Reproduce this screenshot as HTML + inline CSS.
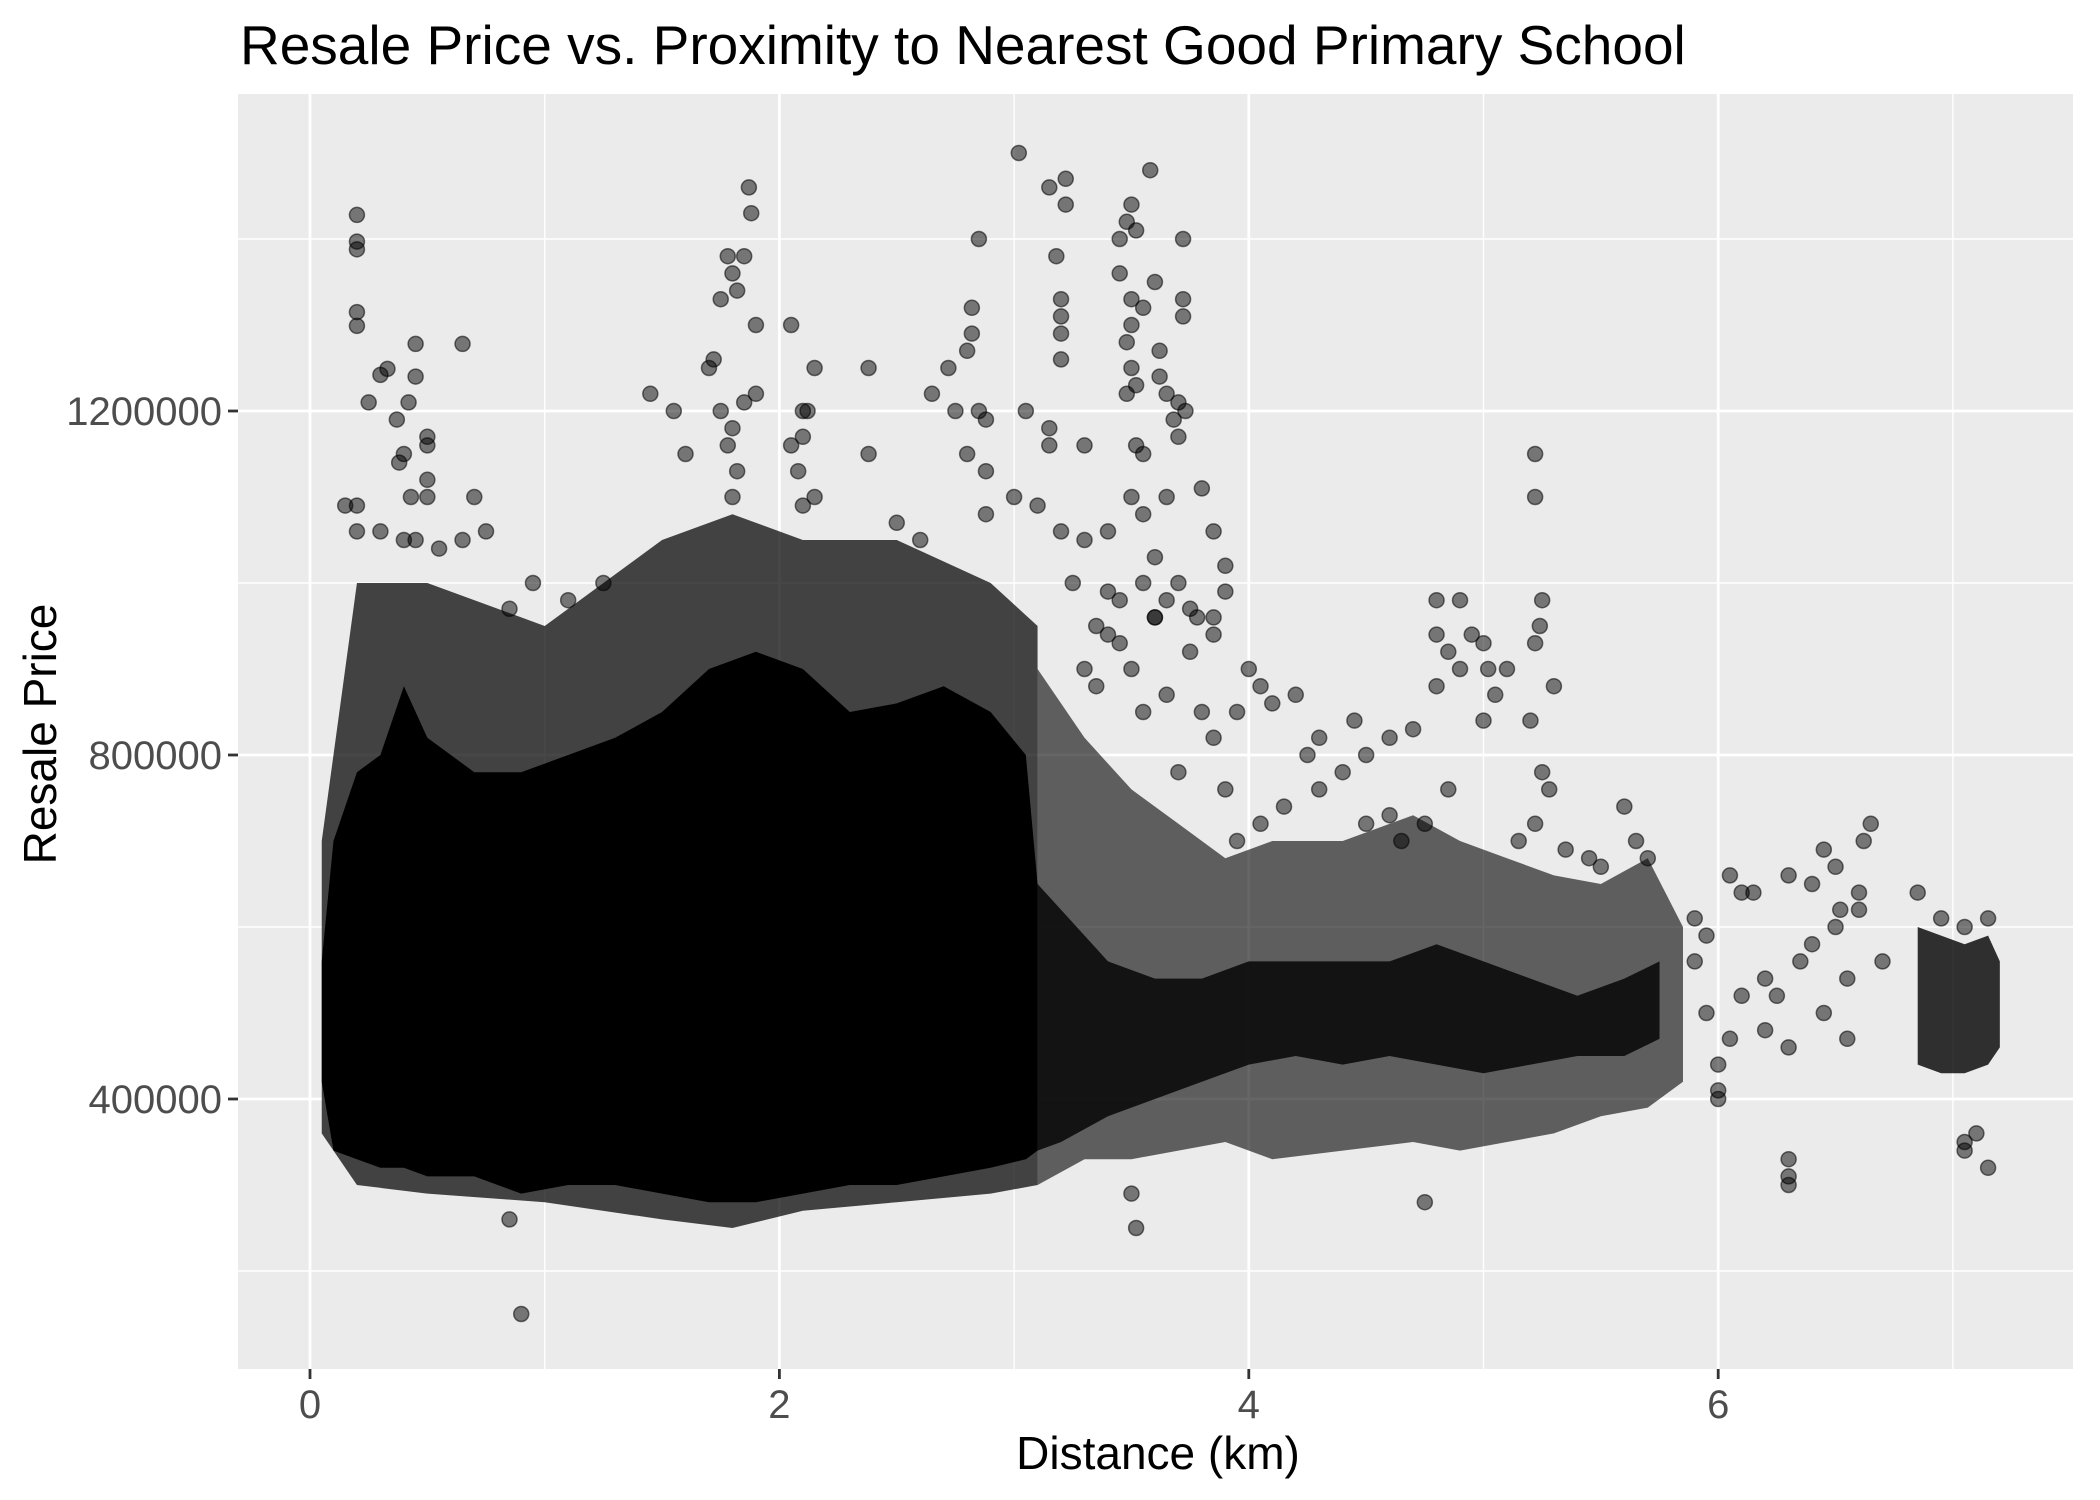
<!DOCTYPE html>
<html><head><meta charset="utf-8"><style>
html,body{margin:0;padding:0;background:#fff;}
svg{display:block;font-family:"Liberation Sans",Arial,sans-serif;}
</style></head><body>
<svg id="chart" width="2100" height="1500" viewBox="0 0 2100 1500">
<rect x="0" y="0" width="2100" height="1500" fill="#fff"/>
<text x="240" y="64" font-size="55" fill="#000">Resale Price vs. Proximity to Nearest Good Primary School</text>
<text x="1158" y="1469" font-size="46" text-anchor="middle" fill="#000">Distance (km)</text>
<text x="0" y="0" font-size="46" text-anchor="middle" fill="#000" transform="translate(56,734) rotate(-90)">Resale Price</text>
<g id="panel"></g>
</svg>
<script>
// ---- data ----
const xTicks = [0, 2, 4, 6];
const xMinor = [1, 3, 5, 7];
const yTicks = [400000, 800000, 1200000];
const yMinor = [200000, 600000, 1000000, 1400000];
const xTickLabels = ["0", "2", "4", "6"];
const yTickLabels = ["400000", "800000", "1200000"];

// dense-cloud envelope (km, thousand SGD)
const haloX  = [0.05,0.2,0.5,1.0,1.5,1.8,2.1,2.5,2.9,3.1];
const haloLo = [360,300,290,280,260,250,270,280,290,300];
const haloHi = [700,1000,1000,950,1050,1080,1050,1050,1000,950];
const haloRX  = [3.1,3.3,3.5,3.7,3.9,4.1,4.4,4.7,4.9,5.1,5.3,5.5,5.7,5.85];
const haloRLo = [300,330,330,340,350,330,340,350,340,350,360,380,390,420];
const haloRHi = [900,820,760,720,680,700,700,730,700,680,660,650,680,600];
const coreX  = [0.05,0.1,0.2,0.3,0.4,0.5,0.7,0.9,1.1,1.3,1.5,1.7,1.9,2.1,2.3,2.5,2.7,2.9,3.05,3.1];
const coreLo = [420,340,330,320,320,310,310,290,300,300,290,280,280,290,300,300,310,320,330,340];
const coreHi = [560,700,780,800,880,820,780,780,800,820,850,900,920,900,850,860,880,850,800,650];
const midX  = [3.1,3.2,3.4,3.6,3.8,4.0,4.2,4.4,4.6,4.8,5.0,5.2,5.4,5.6,5.75];
const midLo = [340,350,380,400,420,440,450,440,450,440,430,440,450,450,470];
const midHi = [650,620,560,540,540,560,560,560,560,580,560,540,520,540,560];
const farX  = [6.85,6.95,7.05,7.15,7.2];
const farLo = [440,430,430,440,460];
const farHi = [600,590,580,590,560];

// individual visible points (km)
const ptX = [0.2,0.2,0.2,0.2,0.2,0.45,0.65,0.33,0.3,0.45,0.42,0.25,0.37,0.5,0.5,0.4,0.38,0.5,0.43,0.5,0.7,0.15,0.2,0.2,0.3,0.4,0.45,0.55,0.65,0.75,0.95,1.1,1.25,0.85,
1.45,1.55,1.6,1.7,1.72,1.75,1.78,1.8,1.82,1.85,1.87,1.88,1.9,1.9,1.85,1.75,1.8,1.78,1.82,1.8,2.05,2.1,2.12,2.15,2.1,2.05,2.08,2.15,2.1,2.38,2.38,2.5,2.6,2.65,2.72,2.75,2.8,2.82,2.82,2.85,2.85,2.8,2.88,2.88,2.88,
3.02,3.05,3.15,3.18,3.2,3.2,3.2,3.2,3.22,3.22,3.15,3.15,3.3,3.45,3.45,3.48,3.5,3.52,3.5,3.5,3.48,3.5,3.48,3.52,3.55,3.58,3.6,3.62,3.62,3.65,3.7,3.68,3.72,3.72,3.72,3.73,3.7,3.55,3.52,3.5,3.55,3.6,3.7,3.65,3.8,3.85,3.9,3.9,3.85,3.78,3.4,3.3,3.2,3.1,3.0,
4.0,4.05,4.1,3.95,4.2,4.25,4.3,4.4,4.45,4.5,4.6,4.7,4.8,4.8,4.8,4.85,4.9,4.9,4.95,5.0,5.02,5.05,5.0,5.1,5.2,5.25,5.24,5.22,5.3,5.25,5.28,5.22,5.22,5.22,5.6,5.65,5.7,5.9,6.05,6.1,6.15,6.3,6.45,6.5,6.65,6.62,6.85,6.95,7.05,7.15,
6.3,6.3,6.3,7.05,7.05,7.1,7.15,6.0,6.0,6.0,4.75,3.52,3.5,0.9,0.85,
6.2,6.25,6.35,6.4,6.5,6.55,6.6,6.45,6.2,6.3,6.55,6.7,5.95,6.05,6.1,5.9,5.95,6.4,6.6,6.52,
3.35,3.4,3.5,3.6,3.65,3.75,3.8,3.45,3.55,3.3,3.7,3.85,3.9,3.95,4.05,4.15,4.3,4.5,4.6,4.65,4.75,4.85,5.15,5.35,5.45,5.5,
3.4,3.55,3.65,3.75,3.85,3.6,3.45,3.35,3.25];
// prices (thousand SGD)
const ptY = [1428,1397,1388,1315,1299,1278,1278,1249,1242,1240,1210,1210,1190,1170,1160,1150,1140,1120,1100,1100,1100,1090,1090,1060,1060,1050,1050,1040,1050,1060,1000,980,1000,970,
1220,1200,1150,1250,1260,1330,1380,1360,1340,1380,1460,1430,1300,1220,1210,1200,1180,1160,1130,1100,1300,1200,1200,1250,1170,1160,1130,1100,1090,1250,1150,1070,1050,1220,1250,1200,1270,1290,1320,1400,1200,1150,1190,1130,1080,
1500,1200,1460,1380,1330,1310,1290,1260,1470,1440,1180,1160,1160,1400,1360,1420,1440,1410,1330,1300,1280,1250,1220,1230,1320,1480,1350,1270,1240,1220,1210,1190,1400,1330,1310,1200,1170,1150,1160,1100,1080,1030,1000,1100,1110,1060,1020,990,960,960,1060,1050,1060,1090,1100,
900,880,860,850,870,800,820,780,840,800,820,830,880,940,980,920,980,900,940,930,900,870,840,900,840,980,950,930,880,780,760,720,1150,1100,740,700,680,610,660,640,640,660,690,670,720,700,640,610,600,610,
330,310,300,340,350,360,320,410,400,440,280,250,290,150,260,
540,520,560,580,600,540,620,500,480,460,470,560,500,470,520,560,590,650,640,620,
880,940,900,960,870,920,850,980,850,900,780,820,760,700,720,740,760,720,730,700,720,760,700,690,680,670,
990,1000,980,970,940,960,930,950,1000];

// ---- scales ----
const PL = 238, PR = 2073, PT = 94, PB = 1369;
const sx = v => 310 + v * 234.7;
const sy = v => 1099 - (v - 400000) / 400000 * 344;
const syk = v => sy(v * 1000);

const NS = "http://www.w3.org/2000/svg";
const svg = document.getElementById("chart");
const panel = document.getElementById("panel");
function mk(tag, attrs, parent) {
  const e = document.createElementNS(NS, tag);
  for (const k in attrs) e.setAttribute(k, attrs[k]);
  (parent || panel).appendChild(e);
  return e;
}

const bg = mk("rect", {x: PL, y: PT, width: PR - PL, height: PB - PT, fill: "#EBEBEB"});



xMinor.forEach(v => {
  const l = mk("line", {x1: sx(v), x2: sx(v), y1: PT, y2: PB, stroke: "#fff", "stroke-width": 1.4});
  
  
});
yMinor.forEach(v => {
  const l = mk("line", {x1: PL, x2: PR, y1: sy(v), y2: sy(v), stroke: "#fff", "stroke-width": 1.4});
  
  
});
xTicks.forEach((v, i) => {
  const l = mk("line", {x1: sx(v), x2: sx(v), y1: PT, y2: PB, stroke: "#fff", "stroke-width": 2.8});
  
  
  const t = mk("line", {x1: sx(v), x2: sx(v), y1: PB, y2: PB + 10, stroke: "#333", "stroke-width": 2.8}, svg);
  
  
  const tx = mk("text", {x: sx(v), y: PB + 49, "font-size": 40, fill: "#4d4d4d", "text-anchor": "middle"}, svg);
  tx.textContent = xTickLabels[i];
  
  
});
yTicks.forEach((v, i) => {
  const l = mk("line", {x1: PL, x2: PR, y1: sy(v), y2: sy(v), stroke: "#fff", "stroke-width": 2.8});
  
  
  const t = mk("line", {x1: PL - 10, x2: PL, y1: sy(v), y2: sy(v), stroke: "#333", "stroke-width": 2.8}, svg);
  
  
  const tx = mk("text", {x: PL - 16, y: sy(v) + 14, "font-size": 40, fill: "#4d4d4d", "text-anchor": "end"}, svg);
  tx.textContent = yTickLabels[i];
  
  
});

function band(xs, lo, hi, op, name) {
  let d = "M" + xs.map((x, i) => sx(x) + "," + syk(hi[i])).join(" L");
  d += " L" + xs.slice().reverse().map((x, j) => sx(x) + "," + syk(lo[xs.length - 1 - j])).join(" L") + " Z";
  const p = mk("path", {d: d, fill: "#000", "fill-opacity": op, stroke: "none"});
  
  
}
band(haloX, haloLo, haloHi, 0.72, 'point-cloud-halo-left');
band(haloRX, haloRLo, haloRHi, 0.6, 'point-cloud-halo-right');
band(coreX, coreLo, coreHi, 1, 'point-cloud-core');
band(midX, midLo, midHi, 0.8, 'point-cloud-mid');
band(farX, farLo, farHi, 0.8, 'point-cloud-far');

ptX.forEach((x, i) => {
  const c = mk("circle", {cx: sx(x), cy: syk(ptY[i]), r: 7.5, fill: "#000", "fill-opacity": 0.5, stroke: "#000", "stroke-opacity": 0.55, "stroke-width": 1.5});
  
  
});
</script>
</body></html>
